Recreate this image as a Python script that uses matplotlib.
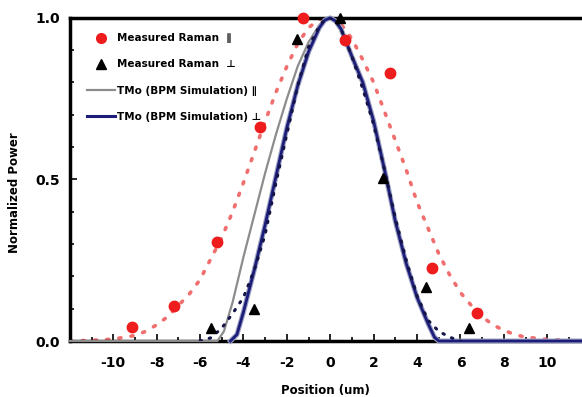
import numpy as np
import matplotlib
matplotlib.use('Agg')
import matplotlib.pyplot as plt
from matplotlib.ticker import MultipleLocator
from matplotlib.lines import Line2D

plt.rcParams['font.family'] = ['DejaVu Sans']
plt.rcParams['font.weight'] = 'bold'
plt.rcParams['axes.unicode_minus'] = False

# measured points
raman_par_x = [-9.15, -7.2, -5.2, -3.25, -1.25, 0.7, 2.75, 4.7, 6.75]
raman_par_y = [0.044, 0.108, 0.307, 0.663, 1.0, 0.93, 0.83, 0.225, 0.086]
raman_perp_x = [-5.5, -3.5, -1.55, 0.45, 2.45, 4.4, 6.4]
raman_perp_y = [0.039, 0.10, 0.934, 1.0, 0.504, 0.168, 0.039]

# gaussian fit to parallel data (red dotted)
fit_par_x = [-12, -11, -10, -9, -8.5, -8, -7.5, -7, -6.5, -6, -5.5, -5, -4.5, -4, -3.5,
             -3, -2.5, -2, -1.5, -1, -0.5, 0, 0.5, 1, 1.5, 2, 2.5, 3, 3.5, 4, 4.5,
             5, 5.5, 6, 6.5, 7, 7.5, 8, 8.5, 9, 10, 11]
fit_par_y = [0.0, 0.002, 0.006, 0.017, 0.03, 0.05, 0.075, 0.11, 0.145, 0.19, 0.255, 0.32,
             0.40, 0.49, 0.585, 0.68, 0.77, 0.85, 0.92, 0.97, 0.995, 1.0, 0.98, 0.935,
             0.87, 0.80, 0.71, 0.62, 0.53, 0.43, 0.35, 0.27, 0.205, 0.15, 0.11, 0.075,
             0.05, 0.033, 0.02, 0.012, 0.005, 0.002]

# fit to perpendicular data (navy dotted)
fit_perp_x = [-6.0, -5.5, -5.0, -4.5, -4.0, -3.5, -3.0, -2.5, -2.0, -1.5, -1.0, -0.5, -0.25,
              0, 0.25, 0.5, 1.0, 1.5, 2.0, 2.5, 3.0, 3.5, 4.0, 4.5, 5.0, 5.5, 6.0]
fit_perp_y = [0.0, 0.01, 0.04, 0.085, 0.135, 0.22, 0.33, 0.49, 0.64, 0.79, 0.91, 0.975, 0.995,
              1.0, 0.99, 0.965, 0.88, 0.78, 0.67, 0.53, 0.38, 0.25, 0.14, 0.065, 0.03, 0.012, 0.0]

# BPM simulation, parallel (gray)
sim_par_x = [-12, -5.2, -4.9, -4.5, -4.0, -3.5, -3.0, -2.5, -2.0, -1.5, -1.0, -0.5, -0.25,
             0.0, 0.25, 0.5, 1.0, 1.5, 2.0, 2.5, 3.0, 3.5, 4.0, 4.5, 4.8, 5.0]
sim_par_y = [0.0, 0.0, 0.03, 0.12, 0.26, 0.39, 0.52, 0.64, 0.75, 0.85, 0.925, 0.978, 0.995,
             1.0, 0.99, 0.965, 0.88, 0.80, 0.68, 0.53, 0.37, 0.24, 0.135, 0.055, 0.012, 0.0]

# BPM simulation, perpendicular (navy)
sim_perp_x = [-4.6, -4.3, -4.0, -3.5, -3.0, -2.5, -2.0, -1.5, -1.0, -0.5, -0.25, 0.0, 0.25,
              0.5, 1.0, 1.5, 2.0, 2.5, 3.0, 3.5, 4.0, 4.5, 4.8, 5.0, 11.6]
sim_perp_y = [0.0, 0.02, 0.09, 0.22, 0.36, 0.51, 0.66, 0.79, 0.895, 0.97, 0.993, 1.0, 0.99,
              0.965, 0.88, 0.80, 0.68, 0.53, 0.37, 0.24, 0.135, 0.055, 0.012, 0.0, 0.0]

fig = plt.figure(figsize=(5.82, 3.97), dpi=100)
ax = fig.add_axes([0.120, 0.141, 0.880, 0.814])

ax.plot(fit_par_x, fit_par_y, color='#ee4a4a', alpha=0.8, lw=2.6,
        linestyle=(0, (0.6, 2.8)), dash_capstyle='round', zorder=2)
ax.plot(sim_par_x, sim_par_y, color='#8c8c8c', lw=1.6, zorder=3, clip_on=False)
ax.plot(sim_perp_x, sim_perp_y, color='#9aa0c0', lw=3.6, zorder=3, clip_on=False)
ax.plot(sim_perp_x, sim_perp_y, color='#1c1c7a', lw=2.0, zorder=4, clip_on=False)
ax.plot(fit_perp_x, fit_perp_y, color='#15154a', lw=2.2,
        linestyle=(0, (0.5, 2.6)), dash_capstyle='round', zorder=5)

ax.plot(raman_par_x, raman_par_y, 'o', color='#ee1c1c', ms=7.5, zorder=6, clip_on=False)
ax.plot(raman_perp_x, raman_perp_y, '^', color='black', ms=7.5, zorder=6, clip_on=False)

ax.set_xlim(-12, 11.6)
ax.set_ylim(0, 1.0)
ax.xaxis.set_minor_locator(MultipleLocator(1))
ax.yaxis.set_major_locator(MultipleLocator(0.5))
ax.yaxis.set_minor_locator(MultipleLocator(0.1))
ax.set_xticks([-10, -8, -6, -4, -2, 0, 2, 4, 6, 8, 10])
ax.tick_params(which='both', direction='in', width=1.2, labelsize=10)
ax.tick_params(which='major', length=5)
ax.tick_params(which='minor', length=3)
ax.tick_params(axis='x', pad=11)
ax.tick_params(axis='y', pad=7)
ax.yaxis.set_major_formatter(matplotlib.ticker.FormatStrFormatter('%.1f'))
for lab in ax.get_xticklabels() + ax.get_yticklabels():
    lab.set_fontweight('bold')

for s in ['left', 'bottom', 'top']:
    ax.spines[s].set_linewidth(2.5)
ax.spines['right'].set_visible(False)

ax.set_xlabel('Position (um)', fontsize=8.5, fontweight='bold', labelpad=10)
ax.set_ylabel('Normalized Power', fontsize=8.5, fontweight='bold')
ax.yaxis.set_label_coords(-0.095, 0.46)

handles = [
    Line2D([], [], marker='o', color='#ee1c1c', ls='none', ms=7),
    Line2D([], [], marker='^', color='black', ls='none', ms=7),
    Line2D([], [], color='#8c8c8c', lw=1.6),
    Line2D([], [], color='#1c1c7a', lw=2.2),
]
labels = ['Measured Raman  \u2225', 'Measured Raman  \u22a5',
          'TMo (BPM Simulation) \u2225', 'TMo (BPM Simulation) \u22a5']
ax.legend(handles, labels, loc='upper left', frameon=False,
          prop={'weight': 'bold', 'size': 7.5}, handlelength=2.7, handletextpad=0.15,
          labelspacing=1.55, borderaxespad=0.3, bbox_to_anchor=(0.02, 0.975))

fig.savefig('out.png', dpi=100)
